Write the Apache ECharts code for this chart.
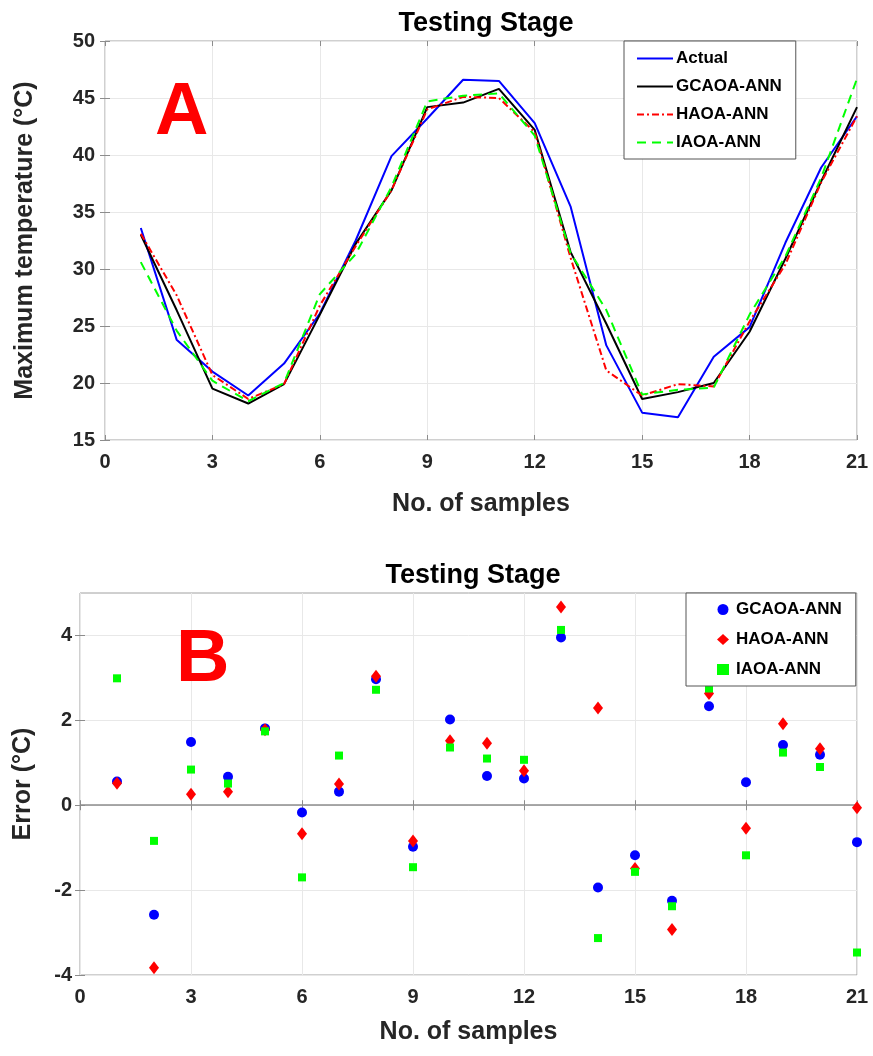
<!DOCTYPE html>
<html>
<head>
<meta charset="utf-8">
<script src="https://cdn.jsdelivr.net/npm/echarts@6/dist/echarts.min.js"></script>
<style>html,body{margin:0;padding:0;background:#fff;}#c{width:873px;height:1056px;}</style>
</head>
<body>
<div id="c"></div>
<script>
var samples = [1,2,3,4,5,6,7,8,9,10,11,12,13,14,15,16,17,18,19,20,21];
var actual = [33.6, 23.8, 21.0, 18.9, 21.7, 26.1, 32.5, 39.9, 43.2, 46.6, 46.5, 42.8, 35.5, 23.3, 17.4, 17.0, 22.3, 24.9, 32.3, 38.9, 43.4];
var gcaoa = [33.0, 26.4, 19.5, 18.2, 19.9, 26.0, 32.2, 36.9, 44.2, 44.6, 45.8, 42.2, 31.5, 25.2, 18.6, 19.2, 20.0, 24.5, 30.9, 37.7, 44.2];
var haoa = [33.1, 27.7, 20.7, 18.6, 19.9, 26.8, 32.0, 36.9, 44.0, 45.1, 45.0, 42.0, 31.0, 21.1, 18.9, 19.9, 19.7, 25.4, 30.4, 37.6, 43.4];
var iaoa = [30.6, 24.6, 20.2, 18.4, 20.0, 27.8, 31.3, 37.2, 44.7, 45.2, 45.4, 41.7, 31.4, 26.4, 19.0, 19.4, 19.6, 26.0, 31.1, 38.0, 46.7];
var errG = [0.56, -2.58, 1.49, 0.67, 1.81, -0.17, 0.32, 2.97, -0.98, 2.02, 0.69, 0.63, 3.95, -1.94, -1.18, -2.25, 2.33, 0.54, 1.42, 1.19, -0.87];
var errH = [0.52, -3.83, 0.26, 0.32, 1.78, -0.67, 0.50, 3.04, -0.84, 1.52, 1.46, 0.81, 4.67, 2.29, -1.49, -2.93, 2.63, -0.54, 1.92, 1.33, -0.06];
var errI = [2.99, -0.84, 0.84, 0.51, 1.74, -1.70, 1.17, 2.72, -1.46, 1.36, 1.10, 1.07, 4.13, -3.13, -1.57, -2.38, 2.75, -1.18, 1.24, 0.90, -3.47];
var errTicks = [-4, -2, 0, 2, 4];
var titleText = 'Testing Stage';
var xName = 'No. of samples';
var yNameTop = 'Maximum temperature (°C)';
var yNameBottom = 'Error (°C)';

function pairs(v){ return samples.map(function(s,i){ return [s, v[i]]; }); }

var FONT = '"Liberation Sans", Arial, sans-serif';
var TXT = '#262626';
var tickStyle = {show:true, inside:true, length:5, lineStyle:{color:'#8c8c8c'}};
var split = {show:true, lineStyle:{color:'#e8e8e8', width:1}};
var lbl = {fontFamily:FONT, fontWeight:'bold', fontSize:20, color:TXT};

function mainX(gi, margin, gap){
  return {type:'value', gridIndex:gi, min:0, max:21, interval:3, position:'bottom',
    axisLine:{show:false}, axisTick:tickStyle, splitLine:split,
    axisLabel:Object.assign({margin:margin}, lbl),
    name:xName, nameLocation:'middle', nameGap:gap,
    nameTextStyle:{fontFamily:FONT, fontWeight:'bold', fontSize:25, color:TXT}};
}
function topX(gi){
  return {type:'value', gridIndex:gi, min:0, max:21, interval:3, position:'top',
    axisLine:{show:false}, axisTick:tickStyle, splitLine:{show:false}, axisLabel:{show:false}};
}

var option = {
  animation:false,
  backgroundColor:'#fff',
  title:[
    {text:titleText, left:481, top:5, textAlign:'center', textStyle:{fontFamily:FONT, fontWeight:'bold', fontSize:27, color:'#000'}},
    {text:titleText, left:468, top:557, textAlign:'center', textStyle:{fontFamily:FONT, fontWeight:'bold', fontSize:27, color:'#000'}}
  ],
  grid:[
    {left:105, right:16, top:41, height:399, show:true, borderColor:'#a0a0a0', borderWidth:1, backgroundColor:'transparent'},
    {left:80, right:16, top:593, height:382, show:true, borderColor:'#a0a0a0', borderWidth:1, backgroundColor:'transparent'}
  ],
  xAxis:[ mainX(0, 12, 52), topX(0), mainX(1, 12, 45), topX(1) ],
  yAxis:[
    {type:'value', gridIndex:0, min:15, max:50, interval:5, position:'left',
      axisLine:{show:false}, axisTick:tickStyle, splitLine:split,
      axisLabel:Object.assign({margin:10}, lbl),
      name:yNameTop, nameLocation:'middle', nameGap:67,
      nameTextStyle:{fontFamily:FONT, fontWeight:'bold', fontSize:25, color:TXT}},
    {type:'value', gridIndex:0, min:15, max:50, interval:5, position:'right',
      axisLine:{show:false}, axisTick:tickStyle, splitLine:{show:false}, axisLabel:{show:false}},
    {type:'value', gridIndex:1, min:-4, max:5, interval:2, position:'left',
      axisLine:{show:false},
      axisTick:Object.assign({customValues:errTicks}, tickStyle),
      splitLine:split,
      axisLabel:Object.assign({margin:8, customValues:errTicks}, lbl),
      name:yNameBottom, nameLocation:'middle', nameGap:44,
      nameTextStyle:{fontFamily:FONT, fontWeight:'bold', fontSize:25, color:TXT}},
    {type:'value', gridIndex:1, min:-4, max:5, interval:2, position:'right',
      axisLine:{show:false},
      axisTick:Object.assign({customValues:errTicks}, tickStyle),
      splitLine:{show:false}, axisLabel:{show:false}}
  ],
  legend:[
    {orient:'vertical', left:624, top:41, padding:[9,14,8,12], itemWidth:36, itemHeight:14, itemGap:11,
      borderColor:'#555', borderWidth:1, backgroundColor:'#fff', borderRadius:0,
      itemStyle:{opacity:0},
      data:['Actual','GCAOA-ANN','HAOA-ANN','IAOA-ANN'],
      textStyle:{fontFamily:FONT, fontWeight:'bold', fontSize:17, color:'#000', padding:[0,0,0,-2]}},
    {orient:'vertical', left:686, top:593, padding:[8,14,8,31], itemWidth:12, itemHeight:11, itemGap:13,
      borderColor:'#555', borderWidth:1, backgroundColor:'#fff', borderRadius:0,
      data:['E:GCAOA-ANN','E:HAOA-ANN','E:IAOA-ANN'],
      formatter:function(n){ return n.replace(/^E:/,''); },
      textStyle:{fontFamily:FONT, fontWeight:'bold', fontSize:17, color:'#000', padding:[0,0,0,2]}}
  ],
  graphic:[
    {type:'text', left:155, top:77, z:50, style:{text:'A', font:'bold 74px ' + FONT, fill:'#ff0000'}},
    {type:'text', left:176, top:624, z:50, style:{text:'B', font:'bold 74px ' + FONT, fill:'#ff0000'}}
  ],
  series:[
    {name:'Actual', type:'line', xAxisIndex:0, yAxisIndex:0, data:pairs(actual), symbol:'none',
      lineStyle:{color:'#0000ff', width:2}, itemStyle:{color:'#0000ff'}},
    {name:'GCAOA-ANN', type:'line', xAxisIndex:0, yAxisIndex:0, data:pairs(gcaoa), symbol:'none',
      lineStyle:{color:'#000000', width:2}, itemStyle:{color:'#000000'}},
    {name:'HAOA-ANN', type:'line', xAxisIndex:0, yAxisIndex:0, data:pairs(haoa), symbol:'none',
      lineStyle:{color:'#ff0000', width:2, type:[7,3,2,3]}, itemStyle:{color:'#ff0000'}},
    {name:'IAOA-ANN', type:'line', xAxisIndex:0, yAxisIndex:0, data:pairs(iaoa), symbol:'none',
      lineStyle:{color:'#00ff00', width:2, type:[9,6]}, itemStyle:{color:'#00ff00'}},
    {name:'E:GCAOA-ANN', type:'scatter', xAxisIndex:2, yAxisIndex:2, data:pairs(errG), symbol:'circle', symbolSize:10,
      itemStyle:{color:'#0000ff', opacity:1},
      markLine:{silent:true, symbol:'none', label:{show:false}, lineStyle:{color:'#8c8c8c', width:1.5, type:'solid'}, data:[{yAxis:0}], z:1}},
    {name:'E:HAOA-ANN', type:'scatter', xAxisIndex:2, yAxisIndex:2, data:pairs(errH), symbol:'diamond', symbolSize:[10,13],
      itemStyle:{color:'#ff0000', opacity:1}},
    {name:'E:IAOA-ANN', type:'scatter', xAxisIndex:2, yAxisIndex:2, data:pairs(errI), symbol:'rect', symbolSize:8,
      itemStyle:{color:'#00ff00', opacity:1}}
  ]
};
var chart = echarts.init(document.getElementById('c'), null, {renderer:'canvas'});
chart.setOption(option);
</script>
</body>
</html>
